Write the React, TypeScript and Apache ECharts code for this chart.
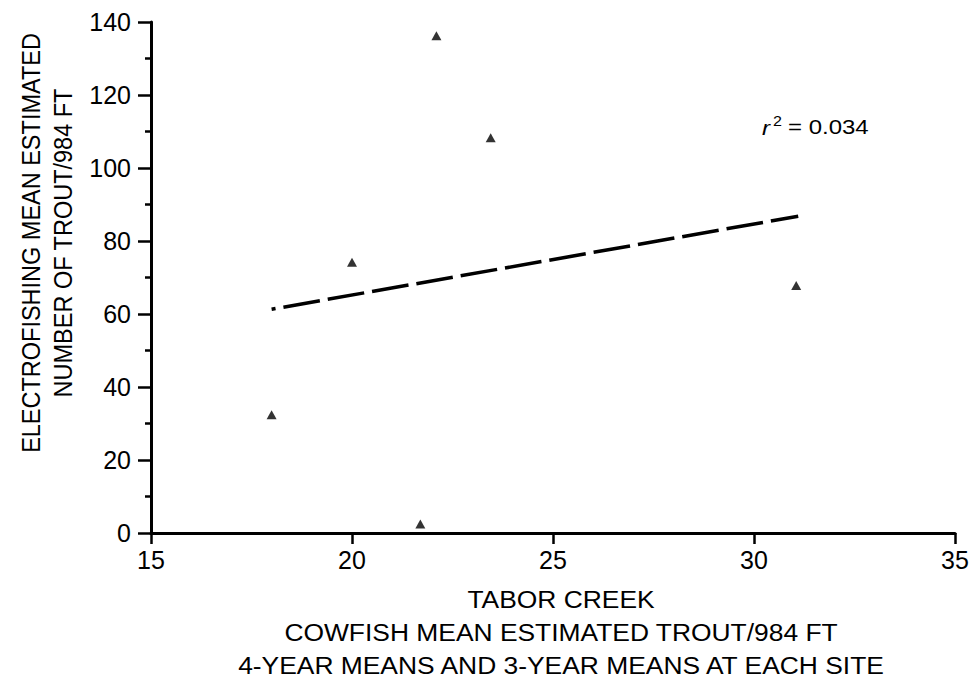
import React, { useEffect, useRef } from "react";
import * as echarts from "echarts";

const xTicks = [15, 20, 25, 30, 35];
const yTicks = [0, 20, 40, 60, 80, 100, 120, 140];
const siteX = [18.0, 20.0, 21.7, 22.1, 23.45, 31.05];
const siteY = [32.4, 74.2, 2.5, 136.2, 108.3, 67.8];
const trendX = [18.0, 31.1];
const trendY = [61.3, 86.8];
const xTitleLines = [
  "TABOR CREEK",
  "COWFISH MEAN ESTIMATED TROUT/984 FT",
  "4-YEAR MEANS AND 3-YEAR MEANS AT EACH SITE",
];
const yTitleLines = ["ELECTROFISHING MEAN ESTIMATED", "NUMBER OF TROUT/984 FT"];
const r2Value = "= 0.034";

const FONT = "'Liberation Sans', Arial, Helvetica, sans-serif";

export default function App() {
  const ref = useRef<HTMLDivElement>(null);
  useEffect(() => {
    if (!ref.current) return;
    const chart = echarts.init(ref.current, null, { renderer: "svg" });
    const xTitleY = [599, 632, 665];
    const yTitleX = [31, 63];
    const option: any = {
      animation: false,
      backgroundColor: "#ffffff",
      grid: { left: 151, right: 22, top: 22, bottom: 146, containLabel: false },
      xAxis: {
        type: "value",
        min: xTicks[0],
        max: xTicks[xTicks.length - 1],
        interval: 5,
        axisLine: { show: true, onZero: false, lineStyle: { color: "#000", width: 3 } },
        axisTick: { show: true, length: 11, lineStyle: { color: "#000", width: 2.5 } },
        axisLabel: { color: "#000", fontSize: 25, fontFamily: FONT, margin: 14 },
        splitLine: { show: false },
      },
      yAxis: {
        type: "value",
        min: yTicks[0],
        max: yTicks[yTicks.length - 1],
        interval: 20,
        axisLine: { show: true, onZero: false, lineStyle: { color: "#000", width: 3 } },
        axisTick: { show: true, length: 13, lineStyle: { color: "#000", width: 2.5 } },
        minorTick: { show: true, splitNumber: 2, length: 6, lineStyle: { color: "#000", width: 2.5 } },
        axisLabel: { color: "#000", fontSize: 25, fontFamily: FONT, margin: 20 },
        splitLine: { show: false },
        minorSplitLine: { show: false },
      },
      series: [
        {
          type: "line",
          data: trendX.map((x, i) => [x, trendY[i]]),
          showSymbol: false,
          symbol: "none",
          lineStyle: { color: "#000", width: 3.5, type: [37, 8], dashOffset: 33 },
          z: 2,
        },
        {
          type: "scatter",
          data: siteX.map((x, i) => [x, siteY[i]]),
          symbol: "triangle",
          symbolSize: [10, 9],
          itemStyle: { color: "#000" },
          z: 3,
        },
      ],
      graphic: [
        ...xTitleLines.map((t, i) => ({
          type: "text",
          x: 561,
          y: xTitleY[i],
          scaleX: 1.1,
          style: {
            text: t,
            fontSize: 24,
            fontFamily: FONT,
            fill: "#000",
            align: "center",
            verticalAlign: "middle",
          },
        })),
        ...yTitleLines.map((t, i) => ({
          type: "text",
          x: yTitleX[i],
          y: 243,
          rotation: Math.PI / 2,
          scaleY: 1.1,
          style: {
            text: t,
            fontSize: 23.5,
            fontFamily: FONT,
            fill: "#000",
            align: "center",
            verticalAlign: "middle",
          },
        })),
        {
          type: "text",
          x: 762,
          y: 128,
          scaleX: 1.2,
          style: {
            text: "r",
            fontSize: 20,
            fontStyle: "italic",
            fontFamily: FONT,
            fill: "#000",
            align: "left",
            verticalAlign: "middle",
          },
        },
        {
          type: "text",
          x: 773,
          y: 121,
          scaleX: 1.15,
          style: {
            text: "2",
            fontSize: 14,
            fontFamily: FONT,
            fill: "#000",
            align: "left",
            verticalAlign: "middle",
          },
        },
        {
          type: "text",
          x: 788,
          y: 127,
          scaleX: 1.2,
          style: {
            text: r2Value,
            fontSize: 20,
            fontFamily: FONT,
            fill: "#000",
            align: "left",
            verticalAlign: "middle",
          },
        },
      ],
    };
    chart.setOption(option);
    return () => chart.dispose();
  }, []);
  return (
    <div
      ref={ref}
      style={{ position: "fixed", left: 0, top: 0, width: 977, height: 679, background: "#fff" }}
    />
  );
}
